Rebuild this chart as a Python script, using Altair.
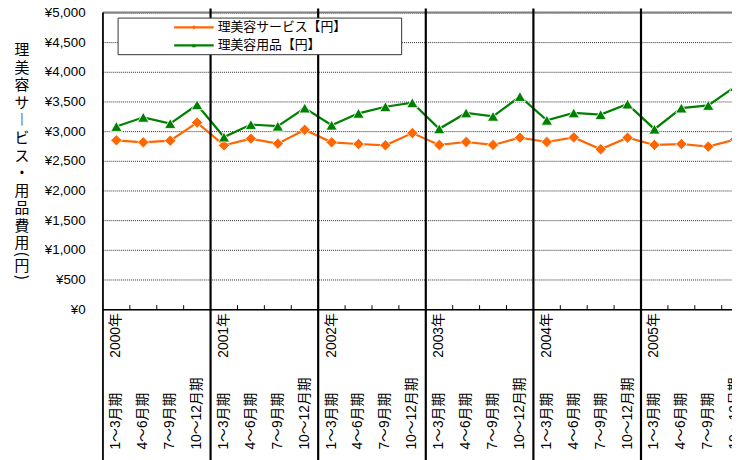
import altair as alt
import pandas as pd

# ---------------- data ----------------
years = [2000, 2001, 2002, 2003, 2004, 2005]
quarters = ["1～3月期", "4～6月期", "7～9月期", "10～12月期"]
series_names = ["理美容サービス【円】", "理美容用品【円】"]
service = [2845, 2811, 2839, 3144, 2761, 2872, 2789, 3022, 2811, 2783, 2761, 2967,
           2767, 2817, 2767, 2889, 2817, 2894, 2694, 2889, 2767, 2783, 2739, 2860]
goods = [3078, 3233, 3128, 3444, 2900, 3111, 3083, 3389, 3100, 3300, 3411, 3478,
         3039, 3306, 3250, 3583, 3183, 3306, 3278, 3456, 3033, 3389, 3433, 3750]
y_ticks = [0, 500, 1000, 1500, 2000, 2500, 3000, 3500, 4000, 4500, 5000]
y_title_chars = ["理", "美", "容", "サ", "︱", "ビ", "ス", "・", "用", "品", "費", "用"]
y_title_unit = ["(", "円", ")"]

colors = ["#FF6600", "#008000"]
shapes = ["diamond", "triangle-up"]

# ---------------- tables ----------------
n = len(years) * len(quarters)
rows = []
for i in range(n):
    rows.append({
        "pos": i + 0.5,
        "year": f"{years[i // 4]}年",
        "quarter": quarters[i % 4],
        "q": i % 4,
        series_names[0]: service[i],
        series_names[1]: goods[i],
    })
wide = pd.DataFrame(rows)
long = wide.melt(id_vars=["pos", "year", "quarter", "q"], value_vars=series_names,
                 var_name="series", value_name="value")
year_df = wide[wide["q"] == 0]
sep_df = pd.DataFrame({"b": [4 * k for k in range(1, len(years))]})
tick_df = pd.DataFrame({"b": [b for b in range(1, n) if b % 4 != 0]})
one = pd.DataFrame({"d": [0]})

STEP = 27.2
W, H = 636, 300
LAT = "Liberation Sans, Noto Sans CJK JP"
JP = "Noto Sans CJK JP"

xs = alt.Scale(domain=[0, W / STEP], nice=False, zero=False)
ys = alt.Scale(domain=[0, 5000], nice=False)
cs = alt.Scale(domain=series_names, range=colors)
ss = alt.Scale(domain=series_names, range=shapes)

yaxis = alt.Axis(values=y_ticks, labelExpr="'¥' + format(datum.value, ',')",
                 title=None, ticks=False, domain=False, labelPadding=18,
                 labelOverlap=False, labelBound=False,
                 labelFont="Liberation Sans", labelFontSize=13.5, labelColor="#000",
                 grid=True, gridColor="#000", gridDash=[1, 1], gridWidth=1, gridOpacity=0.85)

base = alt.Chart(long)

lines = base.mark_line(strokeWidth=2.25).encode(
    x=alt.X("pos:Q", scale=xs, axis=None),
    y=alt.Y("value:Q", scale=ys, axis=yaxis),
    color=alt.Color("series:N", scale=cs, legend=None),
)
points = base.mark_point(filled=True, opacity=1, size=130, stroke="#ffffff",
                         strokeWidth=0.8).encode(
    x=alt.X("pos:Q", scale=xs, axis=None),
    y=alt.Y("value:Q", scale=ys, axis=yaxis),
    color=alt.Color("series:N", scale=cs, legend=None),
    shape=alt.Shape("series:N", scale=ss, legend=None),
)

top_border = alt.Chart(one).mark_rule(color="#808080", strokeWidth=2).encode(
    x=alt.value(0), x2=alt.value(W + 10), y=alt.value(0))
bottom_axis = alt.Chart(one).mark_rule(color="#000", strokeWidth=1.5).encode(
    x=alt.value(0), x2=alt.value(W + 10), y=alt.value(300.5))
left_axis = alt.Chart(one).mark_rule(color="#000", strokeWidth=1.8).encode(
    x=alt.value(0), y=alt.value(0), y2=alt.value(H + 160))
seps = alt.Chart(sep_df).mark_rule(color="#000", strokeWidth=2.2).encode(
    x=alt.X("b:Q", scale=xs, axis=None), y=alt.value(-4), y2=alt.value(H + 160))
ticks = alt.Chart(tick_df).mark_rule(color="#000", strokeWidth=1).encode(
    x=alt.X("b:Q", scale=xs, axis=None), y=alt.value(296), y2=alt.value(300.5))

q_labels = alt.Chart(wide).mark_text(angle=270, align="left", baseline="middle",
                                     font=LAT, fontSize=14, color="#000").encode(
    x=alt.X("pos:Q", scale=xs, axis=None), y=alt.value(442), text="quarter:N")
y_labels = alt.Chart(year_df).mark_text(angle=270, align="right", baseline="middle",
                                        font=LAT, fontSize=14, color="#000").encode(
    x=alt.X("pos:Q", scale=xs, axis=None), y=alt.value(304), text="year:N")

ytitle = alt.Chart(one).mark_text(align="center", baseline="top", font=JP,
                                  fontSize=15, lineHeight=17.7, color="#000").encode(
    x=alt.value(-82), y=alt.value(31.5), text=alt.value(y_title_chars))
unit_layers = []
for ch, yy, ang in zip(y_title_unit, [244.5, 256.5, 268], [90, 0, 90]):
    unit_layers.append(alt.Chart(one).mark_text(align="center", baseline="middle", font=JP,
                                                fontSize=15, angle=ang, color="#000").encode(
        x=alt.value(-82), y=alt.value(yy), text=alt.value(ch)))

legend_box = alt.Chart(one).mark_rect(fill="#ffffff", stroke="#333333", strokeWidth=1).encode(
    x=alt.value(15.3), x2=alt.value(302), y=alt.value(5.7), y2=alt.value(42.7))
legend_layers = [legend_box]
for name, col, shp, yy in zip(series_names, colors, shapes, [15, 33.3]):
    d = pd.DataFrame({"s": [name]})
    legend_layers.append(alt.Chart(d).mark_rule(color=col, strokeWidth=2.25).encode(
        x=alt.value(72), x2=alt.value(112), y=alt.value(yy)))
    legend_layers.append(alt.Chart(d).mark_point(filled=True, opacity=1, color=col,
                                                 shape=shp, size=18).encode(
        x=alt.value(92), y=alt.value(yy)))
    legend_layers.append(alt.Chart(d).mark_text(align="left", baseline="middle", font=JP,
                                                fontSize=13, color="#000").encode(
        x=alt.value(116), y=alt.value(yy), text="s:N"))

chart = alt.layer(
    lines, top_border, seps, left_axis, bottom_axis, ticks, points,
    q_labels, y_labels, ytitle, *unit_layers, *legend_layers
).properties(
    width=W, height=H,
    padding={"left": 96, "top": 2, "right": 0, "bottom": 150},
    autosize=alt.AutoSizeParams(type="none"),
).configure_view(strokeWidth=0)

chart.save("out.html", embed_options={"renderer": "svg", "actions": False})
